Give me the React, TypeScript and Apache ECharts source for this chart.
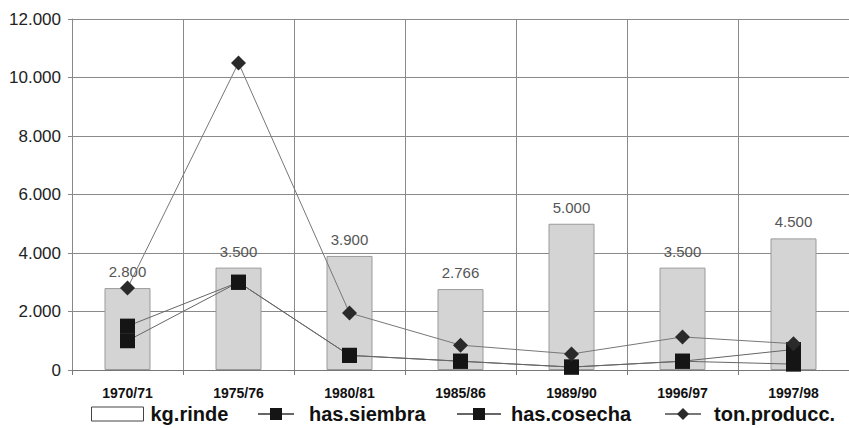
import React, { useEffect, useRef } from "react";
import * as echarts from "echarts";

const categories = ["1970/71", "1975/76", "1980/81", "1985/86", "1989/90", "1996/97", "1997/98"];
const kgRinde = [2800, 3500, 3900, 2766, 5000, 3500, 4500];
const hasSiembra = [1500, 3000, 500, 300, 100, 300, 700];
const hasCosecha = [1000, 3000, 500, 300, 100, 300, 200];
const tonProducc = [2800, 10500, 1950, 850, 550, 1130, 900];
const yTicks = [0, 2000, 4000, 6000, 8000, 10000, 12000];

const fmt = (v: number) => {
  const s = String(Math.round(v));
  return s.replace(/\B(?=(\d{3})+(?!\d))/g, ".");
};

const FONT = "Liberation Sans, Arial, sans-serif";

export default function App() {
  const ref = useRef<HTMLDivElement>(null);
  useEffect(() => {
    if (!ref.current) return;
    const chart = echarts.init(ref.current, undefined, { renderer: "svg" });
    const legendText = (padLeft: number) => ({
      fontFamily: FONT, fontSize: 20, fontWeight: "bold" as const, color: "#111",
      padding: [0, 0, 0, padLeft],
    });
    chart.setOption({
      animation: false,
      backgroundColor: "#fff",
      grid: { left: 72, right: -8, top: 19, bottom: 58, containLabel: false },
      xAxis: {
        type: "category",
        data: categories,
        boundaryGap: true,
        axisLine: { show: true, lineStyle: { color: "#777", width: 1 } },
        axisTick: { show: true, length: 5, lineStyle: { color: "#777" } },
        splitLine: { show: true, lineStyle: { color: "#8a8a8a", width: 1 } },
        axisLabel: { fontFamily: FONT, fontSize: 14, fontWeight: "bold", color: "#111", margin: 16 },
      },
      yAxis: {
        type: "value",
        min: yTicks[0],
        max: yTicks[yTicks.length - 1],
        interval: 2000,
        axisLine: { show: true, lineStyle: { color: "#888" } },
        axisTick: { show: true, length: 4, lineStyle: { color: "#888" } },
        splitLine: { show: true, lineStyle: { color: "#8a8a8a", width: 1 } },
        axisLabel: { fontFamily: FONT, fontSize: 17, color: "#222", margin: 11, formatter: (v: number) => fmt(v) },
      },
      legend: [
        {
          left: 91, top: 404, itemWidth: 52, itemHeight: 14, itemGap: 0,
          data: [{ name: "kg.rinde", icon: "rect", itemStyle: { color: "#fff", borderColor: "#444", borderWidth: 1 } }],
          textStyle: legendText(2), padding: 0,
        },
        {
          left: 257, top: 404, itemWidth: 36, itemHeight: 15, padding: 0,
          data: ["has.siembra"], textStyle: legendText(10),
        },
        {
          left: 456, top: 404, itemWidth: 44, itemHeight: 15, padding: 0,
          data: ["has.cosecha"], textStyle: legendText(5),
        },
        {
          left: 664, top: 404, itemWidth: 36, itemHeight: 15, padding: 0,
          data: ["ton.producc."], textStyle: legendText(8),
        },
      ],
      series: [
        {
          name: "kg.rinde",
          type: "bar",
          data: kgRinde,
          barWidth: 46,
          itemStyle: { color: "#d4d4d4", borderColor: "#9a9a9a", borderWidth: 1 },
          label: {
            show: true, position: "top", distance: 9,
            fontFamily: FONT, fontSize: 15, color: "#555",
            formatter: (p: any) => fmt(p.value),
          },
          z: 1,
        },
        {
          name: "has.siembra",
          type: "line",
          data: hasSiembra,
          symbol: "rect",
          symbolSize: 15,
          itemStyle: { color: "#151515" },
          lineStyle: { color: "#666", width: 1 },
          z: 3,
        },
        {
          name: "has.cosecha",
          type: "line",
          data: hasCosecha,
          symbol: "rect",
          symbolSize: 15,
          itemStyle: { color: "#151515" },
          lineStyle: { color: "#666", width: 1 },
          z: 3,
        },
        {
          name: "ton.producc.",
          type: "line",
          data: tonProducc,
          symbol: "diamond",
          symbolSize: 15,
          itemStyle: { color: "#2a2a2a" },
          lineStyle: { color: "#777", width: 1 },
          z: 4,
        },
      ],
    });
    return () => chart.dispose();
  }, []);
  return <div ref={ref} style={{ width: 849, height: 428, position: "absolute", left: 0, top: 0 }} />;
}
